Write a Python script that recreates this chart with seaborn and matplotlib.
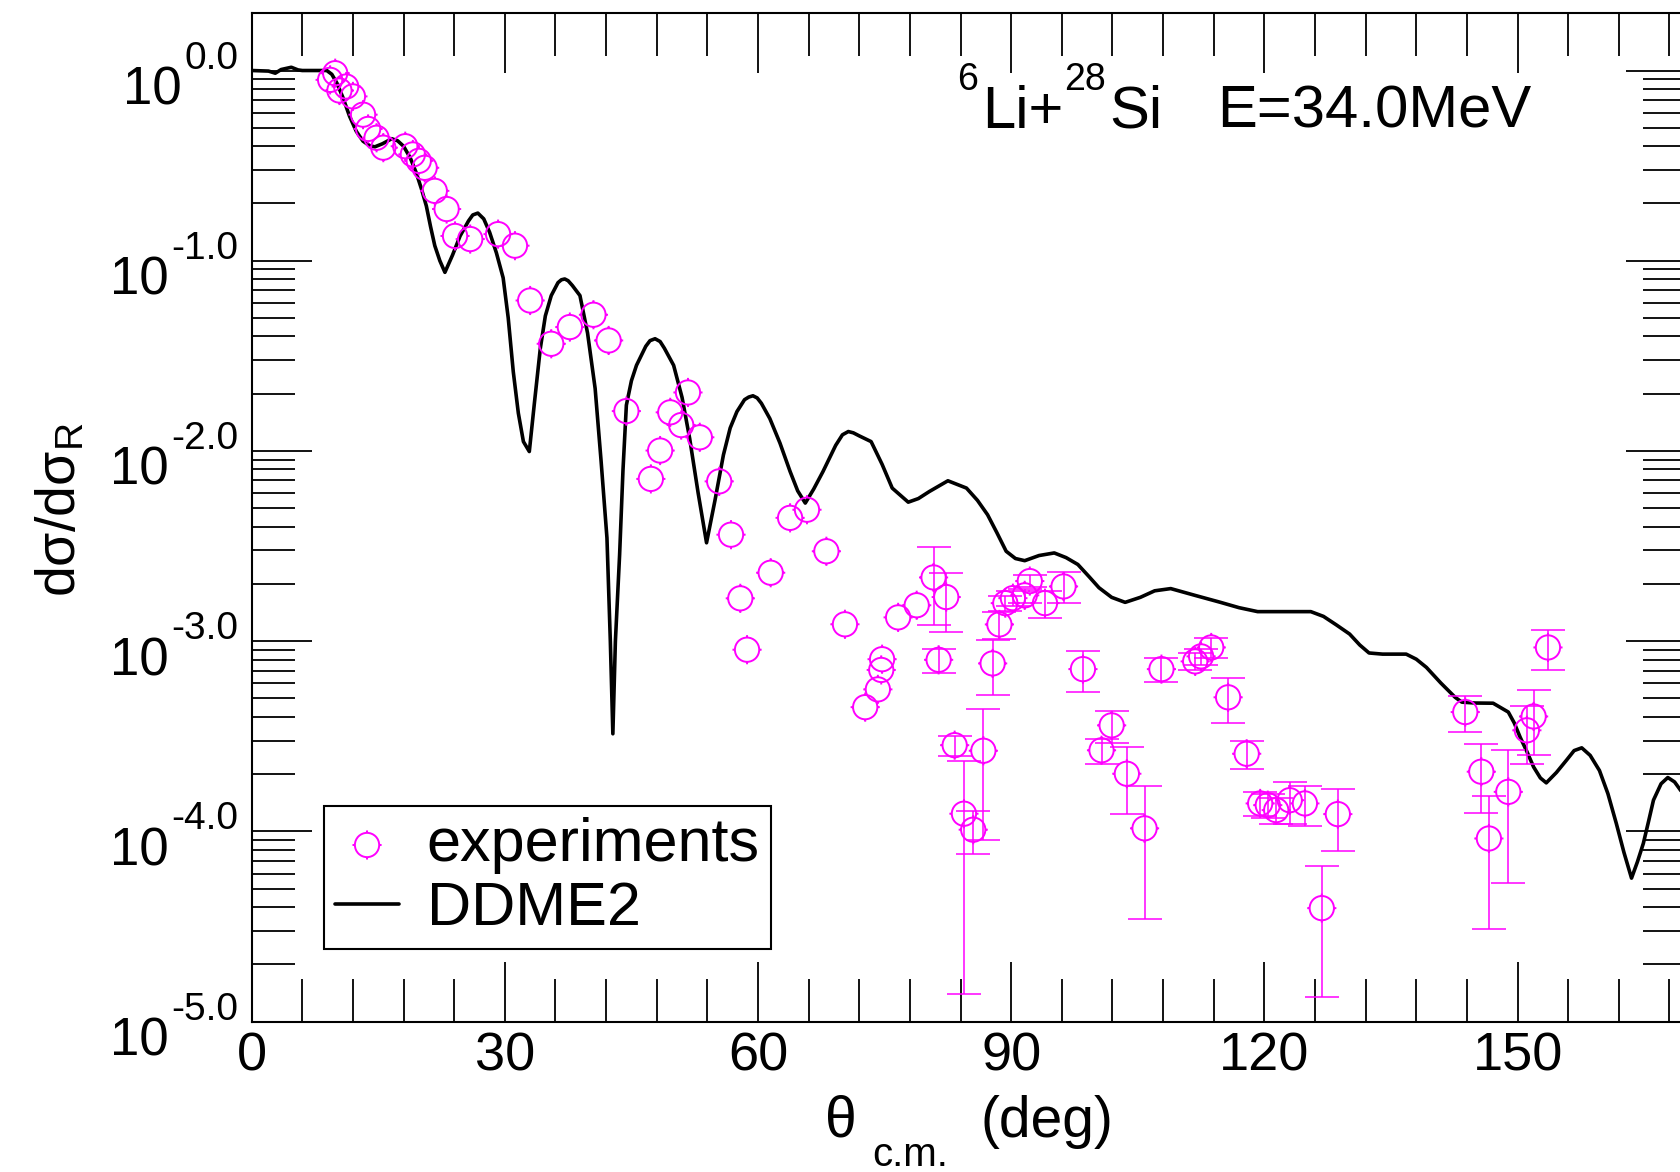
import numpy as np
import matplotlib
matplotlib.use("Agg")
import matplotlib.pyplot as plt
from matplotlib.path import Path
from matplotlib.transforms import ScaledTranslation
from matplotlib.ticker import (FixedLocator, FixedFormatter, LogLocator,
                               MultipleLocator, NullFormatter)
import seaborn as sns

# ---- measured elastic cross section ratio, 6Li + 28Si at 34 MeV ----
theta_exp = [9.3, 9.9, 10.4, 11.2, 12.0, 13.2, 13.8, 14.8, 15.6, 18.2,
             19.1, 19.8, 20.5, 21.7, 23.1, 24.1, 25.9, 29.2, 31.2, 33.0,
             35.5, 37.7, 40.5, 42.3, 44.4, 47.3, 48.4, 49.6, 50.9, 51.7,
             53.1, 55.4, 56.8, 57.9, 58.7, 61.5, 63.8, 65.8, 68.1, 70.3,
             72.7, 74.2, 74.6, 74.7, 76.6, 78.8, 80.8, 81.4, 82.3, 83.3,
             84.4, 85.5, 86.7, 87.8, 88.6, 89.3, 90.2, 91.6, 92.2, 94.0,
             96.2, 98.5, 100.7, 101.9, 103.7, 105.8, 107.8, 111.8, 112.5, 113.7,
             115.7, 117.9, 119.5, 120.4, 121.4, 123.0, 124.8, 126.8, 128.7, 143.8,
             145.7, 146.6, 148.9, 151.1, 151.9, 153.6]
ratio_exp = [0.893, 0.968, 0.785, 0.824, 0.731, 0.586, 0.493, 0.443, 0.393, 0.400,
             0.362, 0.335, 0.308, 0.233, 0.187, 0.135, 0.130, 0.138, 0.120, 0.0618,
             0.0366, 0.0448, 0.0520, 0.0381, 0.0162, 0.00713, 0.01005, 0.01596, 0.01368, 0.0203,
             0.0118, 0.00692, 0.00363, 0.00168, 0.000902, 0.00229, 0.00445, 0.00491, 0.00297, 0.001227,
             0.000450, 0.000558, 0.000706, 0.000804, 0.001334, 0.001545, 0.002163, 0.000798, 0.001706, 0.000284,
             0.0001239, 0.0001021, 0.0002655, 0.000764, 0.001225, 0.001585, 0.001683, 0.001742, 0.00207, 0.001585,
             0.00194, 0.000713, 0.000267, 0.000361, 0.000201, 0.0001038, 0.000713, 0.000783, 0.000832, 0.000927,
             0.000507, 0.000256, 0.0001403, 0.0001374, 0.0001294, 0.0001459, 0.0001403, 0.0000395, 0.0001233, 0.000424,
             0.000206, 0.0000918, 0.0001614, 0.000340, 0.000402, 0.000927]
ratio_err = [0, 0, 0, 0, 0, 0, 0, 0, 0, 0,
             0, 0, 0, 0, 0, 0, 0, 0, 0, 0,
             0, 0, 0, 0, 0, 0, 0, 0, 0, 0,
             0, 0, 0, 0, 0, 0, 0, 0, 0, 0,
             0, 0, 0, 0, 0, 0, 0.00095, 0.000115, 0.00059, 0.000035,
             0.000110, 0.000026, 0.000175, 0.000245, 0.000195, 0.00015, 0.00015, 0.00015, 0.00015, 0.00026,
             0.00036, 0.00017, 0.00004, 0.000068, 0.000077, 0.000069, 0.0001, 0.00008, 0.00008, 0.000115,
             0.000135, 0.000043, 0.00002, 0.00002, 0.00002, 0.000036, 0.000033, 0.000026, 0.000044, 0.00009,
             0.000081, 0.000061, 0.000108, 0.000115, 0.00015, 0.00022]

# ---- DDME2 folding-potential calculation ----
theta_ddme2 = [0.0, 2.0, 2.8, 3.5, 4.7, 5.5, 6.0, 8.9, 9.5, 10.1,
               10.8, 11.6, 12.4, 13.2, 14.0, 14.6, 15.5, 16.6, 17.3, 18.0,
               18.8, 19.5, 20.1, 20.7, 21.2, 21.7, 22.3, 22.9, 23.8, 24.7,
               25.7, 26.2, 26.8, 27.5, 28.2, 29.0, 29.8, 30.4, 31.0, 31.6,
               32.2, 32.9, 33.5, 34.2, 34.8, 35.5, 36.3, 36.7, 37.1, 37.5,
               38.0, 38.9, 39.8, 40.7, 41.4, 42.1, 42.5, 42.8, 43.1, 43.6,
               44.0, 44.4, 45.0, 45.6, 46.7, 47.2, 47.8, 48.4, 48.9, 50.0,
               51.0, 51.9, 52.9, 53.9, 54.9, 55.9, 56.7, 57.5, 58.4, 58.9,
               59.4, 59.9, 60.4, 61.4, 62.6, 63.8, 64.7, 65.6, 66.6, 67.7,
               69.2, 70.0, 70.7, 71.3, 72.0, 73.4, 74.7, 75.9, 77.8, 79.0,
               80.3, 82.5, 84.7, 86.0, 87.2, 88.3, 89.4, 90.5, 91.6, 93.3,
               95.1, 96.5, 97.9, 99.2, 100.4, 101.9, 103.5, 105.3, 107.0, 108.9,
               111.8, 114.8, 117.0, 119.2, 122.0, 125.5, 127.0, 128.5, 130.1, 131.3,
               132.4, 134.0, 136.8, 138.0, 139.2, 140.9, 142.6, 143.4, 145.0, 147.1,
               148.9, 149.6, 150.3, 151.1, 151.9, 152.7, 153.4, 154.6, 155.8, 156.7,
               157.6, 158.6, 159.7, 160.7, 161.7, 162.6, 163.5, 164.2, 164.9, 165.5,
               166.1, 167.0, 167.8, 168.6, 169.3, 170.0]
ratio_ddme2 = [1.0, 0.993, 0.968, 1.012, 1.040, 1.007, 1.0, 1.0, 0.955, 0.859,
               0.724, 0.575, 0.479, 0.425, 0.402, 0.397, 0.412, 0.438, 0.427, 0.400,
               0.347, 0.290, 0.240, 0.194, 0.151, 0.120, 0.100, 0.0869, 0.107, 0.135,
               0.162, 0.174, 0.178, 0.166, 0.141, 0.110, 0.0813, 0.0501, 0.0261, 0.0158,
               0.0112, 0.00993, 0.0178, 0.0345, 0.0513, 0.0656, 0.0767, 0.0794, 0.0802, 0.0785,
               0.0741, 0.0656, 0.0417, 0.0213, 0.00891, 0.00349, 0.0010, 0.000326, 0.0010, 0.00285,
               0.00794, 0.0174, 0.0234, 0.0282, 0.0355, 0.0380, 0.0389, 0.0376, 0.0347, 0.0282,
               0.0191, 0.01164, 0.00603, 0.00329, 0.0055, 0.00953, 0.0132, 0.0161, 0.0186, 0.0192,
               0.0195, 0.0190, 0.0178, 0.0148, 0.0110, 0.0078, 0.00617, 0.00532, 0.00631, 0.0078,
               0.0107, 0.01216, 0.01265, 0.01245, 0.0120, 0.0112, 0.00851, 0.00638, 0.00538, 0.00562,
               0.00612, 0.00697, 0.00638, 0.0055, 0.00462, 0.00372, 0.00297, 0.00272, 0.00265, 0.00282,
               0.00291, 0.00275, 0.00253, 0.00219, 0.00191, 0.0017, 0.0016, 0.0017, 0.00184, 0.00189,
               0.00174, 0.0016, 0.0015, 0.00143, 0.00143, 0.00143, 0.00135, 0.00122, 0.00109, 0.000955,
               0.000867, 0.000855, 0.000855, 0.000804, 0.000728, 0.000603, 0.000507, 0.000478, 0.000473, 0.000472,
               0.000424, 0.000372, 0.000313, 0.000263, 0.000218, 0.000191, 0.000180, 0.000204, 0.000237, 0.000266,
               0.000275, 0.000251, 0.000209, 0.000158, 0.000110, 0.0000776, 0.0000568, 0.0000692, 0.0000865, 0.000112,
               0.000146, 0.000178, 0.000192, 0.000182, 0.000165, 0.000148]

# ---- axis ticks and labels ----
x_ticks = [0, 30, 60, 90, 120, 150]
x_tick_labels = ["0", "30", "60", "90", "120", "150"]
y_ticks = [1e-5, 1e-4, 1e-3, 1e-2, 1e-1, 1e0]
y_tick_exponents = ["-5.0", "-4.0", "-3.0", "-2.0", "-1.0", "0.0"]

MAGENTA = "#ff00ff"

sns.set_theme(style="ticks")
plt.rcParams.update({
    "font.family": ["Liberation Sans", "DejaVu Sans"],
    "mathtext.fontset": "custom",
    "mathtext.rm": "Liberation Sans",
    "mathtext.it": "Liberation Sans:italic",
    "mathtext.bf": "Liberation Sans:bold",
    "mathtext.sf": "Liberation Sans",
    "text.color": "black",
    "axes.edgecolor": "black",
    "axes.labelcolor": "black",
    "xtick.color": "black",
    "ytick.color": "black",
    "lines.solid_joinstyle": "round",
})

fig = plt.figure(figsize=(16.81, 11.72), dpi=100)
fig.patch.set_facecolor("white")
ax = fig.add_axes([0.1497, 0.1283, 0.8535, 0.8604])
ax.set_facecolor("white")
renderer = fig.canvas.get_renderer()


def text_run(anchor, pieces, align="left"):
    """Lay out (text, size, rise_px, gap_px) pieces on one baseline."""
    made = []
    for s, size, rise, gap in pieces:
        t = ax.text(0, 0, s, fontsize=size, ha="left", va="baseline",
                    transform=anchor)
        made.append((t, t.get_window_extent(renderer).width, rise, gap))
    total = sum(w + g for _, w, _, g in made)
    pos = {"left": 0.0, "center": -total / 2, "right": -total}[align]
    for t, w, rise, gap in made:
        pos += gap
        t.set_transform(anchor + ScaledTranslation(pos / fig.dpi, rise / fig.dpi,
                                                   fig.dpi_scale_trans))
        pos += w
    return [m[0] for m in made]


# open circle symbol with four short ticks on its rim
tick_verts = [(0, 1), (0, 1.2), (0, -1), (0, -1.2),
              (1, 0), (1.2, 0), (-1, 0), (-1.2, 0)]
tick_codes = [Path.MOVETO, Path.LINETO] * 4
ring = Path.make_compound_path(Path.unit_circle(), Path(tick_verts, tick_codes))

theta_arr = np.asarray(theta_exp)
ratio_arr = np.asarray(ratio_exp)
err_arr = np.asarray(ratio_err)
has_err = err_arr > 0

ax.errorbar(theta_arr[has_err], ratio_arr[has_err], yerr=err_arr[has_err],
            fmt="none", ecolor=MAGENTA, elinewidth=1.1, capsize=12,
            capthick=1.1, zorder=3)

sns.lineplot(x=theta_ddme2, y=ratio_ddme2, ax=ax, color="black",
             linewidth=2.6, sort=False, estimator=None, label="DDME2", zorder=2)

sns.scatterplot(x=theta_exp, y=ratio_exp, ax=ax, marker=ring, s=440,
                color=MAGENTA, facecolors="none", edgecolor=MAGENTA,
                linewidth=1.4, label="experiments", zorder=4)

ax.set_yscale("log")
ax.set_xlim(0, 170)
ax.set_ylim(1e-5, 2.0)

ax.xaxis.set_major_locator(FixedLocator(x_ticks))
ax.xaxis.set_major_formatter(FixedFormatter(x_tick_labels))
ax.xaxis.set_minor_locator(MultipleLocator(6))
ax.yaxis.set_major_locator(FixedLocator(y_ticks))
ax.yaxis.set_major_formatter(NullFormatter())
ax.yaxis.set_minor_locator(LogLocator(base=10, subs=(2, 3, 4, 5, 6, 7, 8, 9), numticks=30))
ax.yaxis.set_minor_formatter(NullFormatter())

ax.tick_params(which="both", direction="in", top=True, right=True,
               width=1.3, color="black")
ax.tick_params(which="major", length=43)
ax.tick_params(which="minor", length=31)
ax.tick_params(axis="x", which="major", labelsize=39, pad=7)

for spine in ax.spines.values():
    spine.set_linewidth(1.5)
    spine.set_color("black")

# y tick labels: "10" with a raised exponent, right-aligned left of the spine
ytrans = ax.get_yaxis_transform()
for val, ex in zip(y_ticks, y_tick_exponents):
    anchor = ytrans + ScaledTranslation(-13 / fig.dpi, 0, fig.dpi_scale_trans)
    for t in text_run(anchor, [("10", 38, -34, 0), (ex, 28, 2, 3)], align="right"):
        t.set_x(0)
        t.set_y(val)

# x axis title
for t in text_run(ax.transAxes, [("\u03b8", 41, 0, 0), ("c.m.", 29, -29, 16),
                                 ("(deg)", 41, 0, 32)], align="center"):
    t.set_x(0.5)
    t.set_y(-0.1144)

ax.set_ylabel("d\u03c3/d\u03c3$_{\\mathrm{R}}$", fontsize=40, va="center")
ax.yaxis.set_label_coords(-0.133, 0.508)

# reaction label
for t in text_run(ax.transAxes, [("6", 27, 38, 0), ("Li+", 43, 0, 4),
                                 ("28", 27, 38, 1), ("Si", 43, 0, 3),
                                 ("E=34.0MeV", 43, 0, 55)]):
    t.set_x(0.4916)
    t.set_y(0.8862)

handles, labels = ax.get_legend_handles_labels()
order = [labels.index("experiments"), labels.index("DDME2")]
leg = ax.legend([handles[i] for i in order], [labels[i] for i in order],
                loc="upper left", bbox_to_anchor=(0.0504, 0.2138),
                borderaxespad=0, fontsize=44, frameon=True, fancybox=False,
                edgecolor="black", framealpha=1, handlelength=1.05,
                handletextpad=0.45, borderpad=0.18, labelspacing=0.12)
leg.get_frame().set_linewidth(1.5)

fig.savefig("out.png", dpi=100, facecolor="white")
